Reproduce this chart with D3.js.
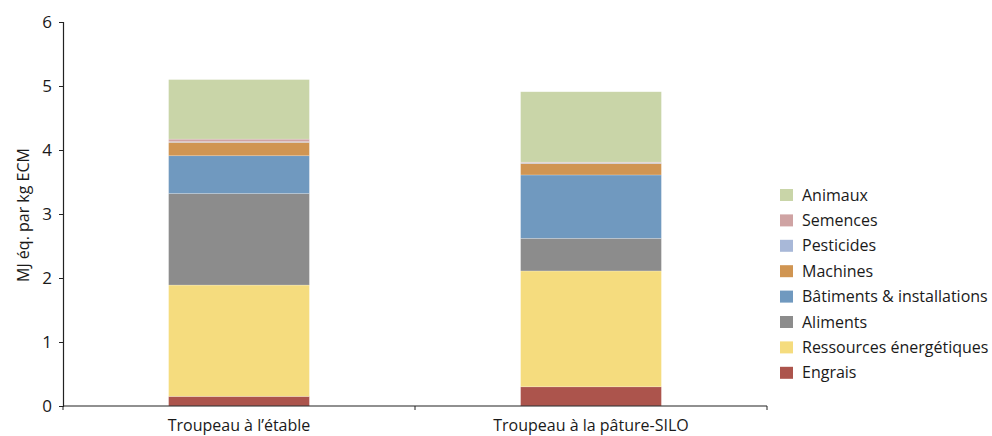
<!DOCTYPE html>
<html><head><meta charset="utf-8">
<script src="https://cdn.jsdelivr.net/npm/d3@7"></script>
<style>body{margin:0;background:#fff}svg{display:block}text{font-family:"Open Sans",sans-serif;fill:#1a1a1a}</style>
</head><body>
<svg id="c" width="992" height="436"></svg>
<script>
const categories = ["Troupeau à l’étable", "Troupeau à la pâture-SILO"];
const seriesNames = ["Engrais", "Ressources énergétiques", "Aliments", "Bâtiments & installations", "Machines", "Pesticides", "Semences", "Animaux"];
const seriesColors = ["#AC544C", "#F5DC7E", "#8C8C8C", "#7099BF", "#D09552", "#A8B8D8", "#CFA3A3", "#C9D5A8"];
const engrais     = [0.15, 0.30];
const ressources  = [1.74, 1.81];
const aliments    = [1.43, 0.51];
const batiments   = [0.59, 0.99];
const machines    = [0.21, 0.18];
const pesticides  = [0.01, 0.01];
const semences    = [0.04, 0.01];
const animaux     = [0.93, 1.10];
const yTicks = [0, 1, 2, 3, 4, 5, 6];
const yLabel = "MJ éq. par kg ECM";

const values = [engrais, ressources, aliments, batiments, machines, pesticides, semences, animaux];
const table = categories.map((c, i) => {
  const row = {cat: c};
  seriesNames.forEach((s, k) => row[s] = values[k][i]);
  return row;
});
const stacked = d3.stack().keys(seriesNames)(table);

const svg = d3.select("#c");
const x = d3.scaleBand().domain(categories).range([63, 767]).paddingInner(0.6).paddingOuter(0.3);
const y = d3.scaleLinear().domain([0, 6]).range([406, 22]);

svg.append("g").selectAll("g").data(stacked).join("g")
  .attr("fill", (d, i) => seriesColors[i])
  .selectAll("rect").data(d => d).join("rect")
  .attr("x", d => x(d.data.cat))
  .attr("width", x.bandwidth())
  .attr("y", d => y(d[1]))
  .attr("height", d => y(d[0]) - y(d[1]))
  .attr("stroke", "rgba(255,255,255,0.35)")
  .attr("stroke-width", 0.6);

// y axis
const ya = svg.append("g").attr("transform", "translate(63,0)")
  .call(d3.axisLeft(y).tickValues(yTicks).tickFormat(d3.format("d")).tickSizeOuter(0).tickSize(4).tickPadding(7));
ya.select(".domain").attr("stroke", "#222").attr("stroke-width", 1.2);
ya.selectAll(".tick line").attr("stroke", "#222");
ya.selectAll(".tick text").attr("font-size", 17).attr("font-family", "Open Sans").attr("fill", "#1a1a1a");

// x axis
const xa = svg.append("g").attr("transform", "translate(0,406)");
xa.append("line").attr("x1", 63).attr("x2", 767).attr("stroke", "#222").attr("stroke-width", 1.2);
const step = x.step();
const edges = [x.range()[0], ...categories.slice(1).map(c => x(c) - step * x.paddingInner() / 2), x.range()[1]];
xa.selectAll("line.t").data(edges).join("line").attr("class", "t")
  .attr("x1", d => d).attr("x2", d => d).attr("y1", 0).attr("y2", 4).attr("stroke", "#222");
xa.selectAll("text").data(categories).join("text")
  .attr("x", d => x(d) + x.bandwidth() / 2).attr("y", 25)
  .attr("text-anchor", "middle").attr("font-size", 16).text(d => d);

svg.append("text").attr("transform", "translate(29,215) rotate(-90)")
  .attr("text-anchor", "middle").attr("font-size", 16).text(yLabel);

// legend (reverse order)
const legendItems = seriesNames.map((s, i) => ({s, c: seriesColors[i]})).reverse();
const lg = svg.append("g");
lg.selectAll("rect").data(legendItems).join("rect")
  .attr("x", 780).attr("y", (d, i) => 189 + i * 25.4).attr("width", 13).attr("height", 12).attr("fill", d => d.c);
lg.selectAll("text").data(legendItems).join("text")
  .attr("x", 802).attr("y", (d, i) => 195 + i * 25.4).attr("dy", "0.35em")
  .attr("font-size", 16).text(d => d.s);
</script>
</body></html>
